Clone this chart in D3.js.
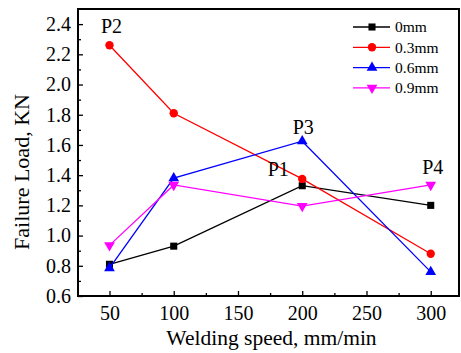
<!DOCTYPE html>
<html>
<head>
<meta charset="utf-8">
<script src="https://cdn.jsdelivr.net/npm/d3@7"></script>
<style>
  body { margin: 0; background: #fff; }
  svg text { font-family: "Liberation Serif", "Times New Roman", serif; fill: #000; }
</style>
</head>
<body>
<svg></svg>
<script>
// data
var speeds = [50, 100, 200, 300]
var load0mm = [0.81, 0.93, 1.33, 1.20]
var load03mm = [2.26, 1.81, 1.375, 0.88]
var load06mm = [0.785, 1.38, 1.625, 0.76]
var load09mm = [0.935, 1.335, 1.195, 1.335]
var seriesNames = ["0mm", "0.3mm", "0.6mm", "0.9mm"]
var seriesColors = ["#000000", "#ff0000", "#0000ff", "#ff00ff"]
var seriesSymbols = ["square", "circle", "triangle", "triangleDown"]
var xTicks = [50, 100, 150, 200, 250, 300]
var yTicks = [0.6, 0.8, 1.0, 1.2, 1.4, 1.6, 1.8, 2.0, 2.2, 2.4]
var pointLabels = [
  {text: "P1", x: 200, y: 1.33, dx: -24, dy: -10},
  {text: "P2", x: 50, y: 2.26, dx: 2, dy: -12},
  {text: "P3", x: 200, y: 1.625, dx: 1, dy: -7},
  {text: "P4", x: 300, y: 1.335, dx: 2, dy: -11}
]

var margin = ({top: 9, right: 2, bottom: 57, left: 78})
var W = 461, H = 353
var width = W - margin.left - margin.right
var height = H - margin.top - margin.bottom

var svg = d3.select("svg")
    .attr("width", W)
    .attr("height", H)

var x = d3.scaleLinear()
    .domain([25.5, 322])
    .range([margin.left, W - margin.right])

var y = d3.scaleLinear()
    .domain([0.6, 2.5])
    .range([H - margin.bottom, margin.top])

var data = [load0mm, load03mm, load06mm, load09mm].map((vals, i) => ({
  name: seriesNames[i],
  color: seriesColors[i],
  symbol: seriesSymbols[i],
  values: vals.map((v, j) => ({x: speeds[j], y: v}))
}))

// minor ticks
var xMinor = d3.range(75, 300, 50)
var yMinor = d3.range(0.7, 2.5, 0.2)

var xAxis = g => g
    .attr("transform", `translate(0,${H - margin.bottom})`)
    .call(d3.axisBottom(x).tickValues(xTicks).tickSize(-5).tickPadding(10).tickFormat(d3.format("d")))
    .call(g => g.selectAll(".domain").remove())
    .call(g => g.selectAll("line").attr("stroke-width", 1.3))
    .call(g => g.selectAll("text").attr("font-size", 20))

var yAxis = g => g
    .attr("transform", `translate(${margin.left},0)`)
    .call(d3.axisLeft(y).tickValues(yTicks).tickSize(-5).tickPadding(7).tickFormat(d3.format(".1f")))
    .call(g => g.selectAll(".domain").remove())
    .call(g => g.selectAll("line").attr("stroke-width", 1.3))
    .call(g => g.selectAll("text").attr("font-size", 20))

svg.append("g").call(xAxis)
svg.append("g").call(yAxis)

svg.append("g")
    .attr("transform", `translate(0,${H - margin.bottom})`)
    .call(d3.axisBottom(x).tickValues(xMinor).tickSize(-3).tickFormat(""))
    .call(g => g.selectAll(".domain").remove())
    .call(g => g.selectAll("line").attr("stroke-width", 1.3))

svg.append("g")
    .attr("transform", `translate(${margin.left},0)`)
    .call(d3.axisLeft(y).tickValues(yMinor).tickSize(-3).tickFormat(""))
    .call(g => g.selectAll(".domain").remove())
    .call(g => g.selectAll("line").attr("stroke-width", 1.3))

// frame
svg.append("rect")
    .attr("x", margin.left)
    .attr("y", margin.top)
    .attr("width", width)
    .attr("height", height)
    .attr("fill", "none")
    .attr("stroke", "#000")
    .attr("stroke-width", 2)

var line = d3.line().x(d => x(d.x)).y(d => y(d.y))

var symbolType = {
  square: d3.symbolSquare,
  circle: d3.symbolCircle,
  triangle: d3.symbolTriangle,
  triangleDown: d3.symbolTriangle
}
var symbolSize = {square: 50, circle: 55, triangle: 50, triangleDown: 50}

function drawSymbol(sel, s) {
  sel.attr("d", d3.symbol(symbolType[s.symbol], symbolSize[s.symbol]))
     .attr("fill", s.color)
}

var groups = svg.append("g")
    .selectAll("g")
    .data(data)
    .join("g")

groups.append("path")
    .attr("fill", "none")
    .attr("stroke", d => d.color)
    .attr("stroke-width", 1.3)
    .attr("d", d => line(d.values))

groups.each(function(s) {
  d3.select(this).selectAll(".pt")
    .data(s.values)
    .join("path")
      .attr("class", "pt")
      .call(drawSymbol, s)
      .attr("transform", d => `translate(${x(d.x)},${y(d.y)})` + (s.symbol == "triangleDown" ? " rotate(180)" : ""))
})

// point labels
svg.append("g")
    .selectAll("text")
    .data(pointLabels)
    .join("text")
      .attr("x", d => x(d.x) + d.dx)
      .attr("y", d => y(d.y) + d.dy)
      .attr("text-anchor", "middle")
      .attr("font-size", 20)
      .text(d => d.text)

// legend
var legend = svg.append("g")
    .selectAll("g")
    .data(data)
    .join("g")
      .attr("transform", (d, i) => `translate(353,${27 + i * 20.3})`)

legend.append("line")
    .attr("x1", 0).attr("x2", 37)
    .attr("stroke", d => d.color)
    .attr("stroke-width", 1.3)

legend.append("path")
    .each(function(s) { d3.select(this).call(drawSymbol, s) })
    .attr("transform", d => "translate(19,0)" + (d.symbol == "triangleDown" ? " rotate(180)" : ""))

legend.append("text")
    .attr("x", 42)
    .attr("dy", "0.35em")
    .attr("font-size", 15.5)
    .text(d => d.name)

// axis titles
svg.append("text")
    .attr("x", (margin.left + W - margin.right) / 2 + 3)
    .attr("y", 345)
    .attr("text-anchor", "middle")
    .attr("font-size", 21.5)
    .text("Welding speed, mm/min")

svg.append("text")
    .attr("transform", "translate(29,172) rotate(-90)")
    .attr("text-anchor", "middle")
    .attr("font-size", 22)
    .text("Failure Load, KN")
</script>
</body>
</html>
